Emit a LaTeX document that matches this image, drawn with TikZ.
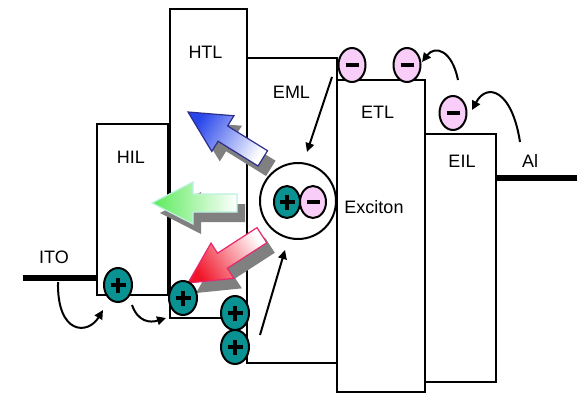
\documentclass[tikz,border=0pt]{standalone}
\usepackage{fontspec}
\setmainfont{Liberation Sans}
\usetikzlibrary{arrows.meta,shapes.geometric}

\definecolor{teal2}{RGB}{10,145,145}
\definecolor{pinkc}{RGB}{248,205,248}
\definecolor{shadowgray}{RGB}{128,128,128}
\definecolor{bluetip}{RGB}{40,70,235}
\definecolor{blueline}{RGB}{45,45,140}
\definecolor{greentip}{RGB}{90,235,90}
\definecolor{greenline}{RGB}{190,240,225}
\definecolor{redtip}{RGB}{240,20,40}
\definecolor{redline}{RGB}{230,40,110}

\newcommand\blockarrow[6]{%
  \begin{scope}[xshift=8pt,yshift=-10pt,shift={(#1)},rotate=#2]
    \fill[shadowgray] (0,0) -- (-41,21) -- (-41,9) -- (-#3,9) -- (-#3,-9) -- (-41,-9) -- (-41,-21) -- cycle;
  \end{scope}
  \begin{scope}[shift={(#1)},rotate=#2]
    \path[draw=#5, line width=1.2pt, line join=miter, top color=#4, bottom color=white, shading angle=#6]
      (0,0) -- (-41,21) -- (-41,9) -- (-#3,9) -- (-#3,-9) -- (-41,-9) -- (-41,-21) -- cycle;
  \end{scope}}

\begin{document}
\begin{tikzpicture}[x=1pt,y=-1pt,
  layer/.style={draw, line width=2pt, inner sep=0pt, outer sep=0pt, anchor=north west},
  lbl/.style={anchor=base, font=\fontsize{18}{20}\selectfont, inner sep=0pt},
  plussign/.style={path picture={
      \draw[line width=3.2pt] ([xshift=-7.5pt]path picture bounding box.center) -- ([xshift=7.5pt]path picture bounding box.center);
      \draw[line width=3.2pt] ([yshift=-7.5pt]path picture bounding box.center) -- ([yshift=7.5pt]path picture bounding box.center);}},
  minussign/.style={path picture={
      \draw[line width=3.4pt] ([xshift=-6.5pt]path picture bounding box.center) -- ([xshift=6.5pt]path picture bounding box.center);}},
  hole/.style={ellipse, draw, line width=2pt, fill=teal2, minimum width=28pt, minimum height=34pt, inner sep=0pt, plussign},
  elec/.style={ellipse, draw, line width=2pt, fill=pinkc, minimum width=27pt, minimum height=34pt, inner sep=0pt, minussign},
  electrode/.style={line width=6.5pt},
  flow/.style={line width=2pt, -{Triangle[length=9pt,width=8.5pt]}},
]
\useasboundingbox (0,0) rectangle (588,404);
\fill[white] (0,0) rectangle (588,404);

% layers
\node[layer, minimum width=71pt, minimum height=171pt] (hil) at (97,124) {};
\node[layer, minimum width=77pt, minimum height=309pt] (htl) at (170,9) {};
\node[layer, minimum width=90pt, minimum height=305pt] (eml) at (247,58) {};
\node[layer, minimum width=88pt, minimum height=312pt] (etl) at (337,80) {};
\node[layer, minimum width=71pt, minimum height=248pt] (eil) at (425,134) {};

% electrodes
\coordinate (itoL) at (23,278);
\draw[electrode] (itoL) -- (itoL -| hil.west);
\coordinate (alR) at (577,178);
\draw[electrode] (alR -| eil.east) -- (alR);

% labels
\node[lbl] (lito) at (54,263) {ITO};
\node[lbl] (lhil) at (131,163) {HIL};
\node[lbl] (lhtl) at (205.5,58) {HTL};
\node[lbl] (leml) at (291.5,98) {EML};
\node[lbl] (letl) at (377.5,118) {ETL};
\node[lbl] (leil) at (462,167) {EIL};
\node[lbl] (lal) at (530,167) {Al};
\node[lbl] (lexc) at (374,213.5) {Exciton};

% emission arrows
\blockarrow{188,112}{148.2}{88}{bluetip}{blueline}{58.2}
\blockarrow{152,203}{180}{85}{greentip}{greenline}{90}
\blockarrow{188,283}{212.9}{88}{redtip}{redline}{122.9}

% exciton
\node[circle, draw, line width=2pt, fill=white, minimum size=76pt, inner sep=0pt] (exc) at (298,201) {};
\node[hole, minimum width=26pt, minimum height=32pt] (hx) at (287,202) {};
\node[elec, minimum width=26pt, minimum height=32pt] (ex) at (313,202) {};

% holes
\node[hole] (h1) at (118,285) {};
\node[hole] (h2) at (183,298) {};
\node[hole] (h3) at (235,313) {};
\node[hole] (h4) at (235,347) {};
% electrons
\node[elec] (e1) at (352,65) {};
\node[elec] (e2) at (407,65) {};
\node[elec] (e3) at (453,113) {};

% charge flow
\coordinate (f1s) at (58,282); \coordinate (f1e) at (103,310);
\draw[flow] (f1s) .. controls (57,335) and (88,335) .. (f1e);
\coordinate (f2s) at (132,305); \coordinate (f2e) at (166,318);
\draw[flow] (f2s) .. controls (138,322) and (150,323) .. (f2e);
\coordinate (f3s) at (260,335); \coordinate (f3e) at (285,250);
\draw[flow] (f3s) -- (f3e);
\coordinate (f4s) at (332,77); \coordinate (f4e) at (307,152);
\draw[flow] (f4s) -- (f4e);
\coordinate (f5s) at (458,80); \coordinate (f5e) at (422,62);
\draw[flow] (f5s) .. controls (452,50) and (435,45) .. (f5e);
\coordinate (f6s) at (520,142); \coordinate (f6e) at (472,110);
\draw[flow] (f6s) .. controls (512,90) and (487,82) .. (f6e);
\end{tikzpicture}
\end{document}
